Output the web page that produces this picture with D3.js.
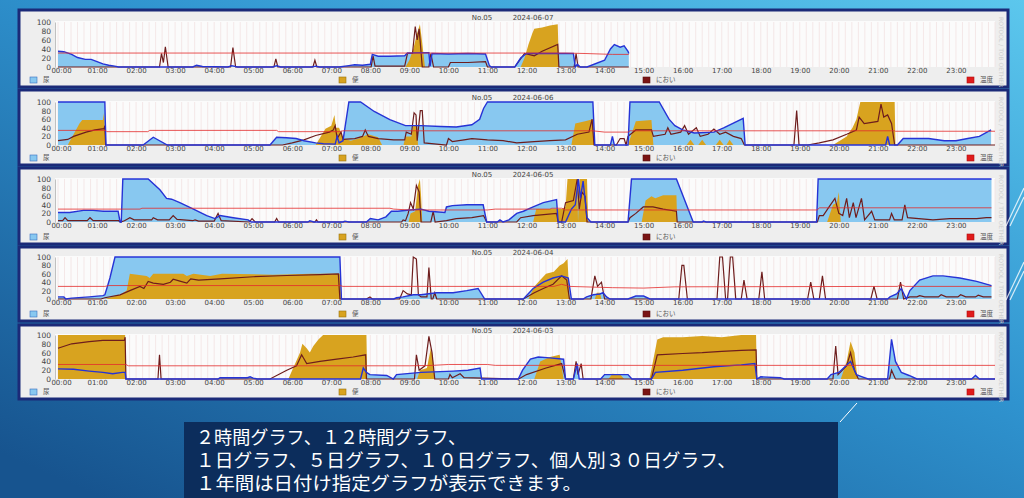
<!DOCTYPE html>
<html><head><meta charset="utf-8">
<script src="https://cdn.jsdelivr.net/npm/d3@7"></script>
<style>body{margin:0;overflow:hidden;background:#1d6aa6}svg{display:block}</style>
</head><body>
<svg id="c" width="1024" height="498"></svg>
<script>
// ---------- labels ----------
const hourLabels = ["00:00","01:00","02:00","03:00","04:00","05:00","06:00","07:00","08:00","09:00","10:00","11:00",
  "12:00","13:00","14:00","15:00","16:00","17:00","18:00","19:00","20:00","21:00","22:00","23:00"];
const hourTicks = [0,1,2,3,4,5,6,7,8,9,10,11,12,13,14,15,16,17,18,19,20,21,22,23];
const yTicks = [0,20,40,60,80,100];
const deviceNo = "No.05";
const days = ["2024-06-07","2024-06-06","2024-06-05","2024-06-04","2024-06-03"];
const legendLabels = ["尿","便","におい","温度"];
const watermark = "ROTOOL / TOB OETHER";
const captionLines = ["２時間グラフ、１２時間グラフ、","１日グラフ、５日グラフ、１０日グラフ、個人別３０日グラフ、","１年間は日付け指定グラフが表示できます。"];

// ---------- data: [hour, value] ----------
const urine0607 = [[0,35],[0.15,34],[0.35,28],[0.5,21],[0.7,17],[0.85,17],[1.0,12],[1.15,7],[1.3,4],[1.45,2],[1.55,0],
 [3.45,0],[3.55,4],[3.7,1],[4.35,0],[4.45,3],[4.6,0],[5.5,0],[5.6,3],[5.7,0],[6.5,0],[6.6,2],[6.7,0],
 [7.2,0],[7.45,3],[7.6,5],[7.8,4],[8.0,6],[8.05,28],[8.2,24],[8.5,24],[8.88,25],[8.95,31],[9.5,32],[9.53,2],[9.58,30],
 [10.0,29],[10.5,30],[10.95,29],[11.05,3],[11.1,0],[11.7,0],[11.85,20],[12.0,30],[13.2,30],[13.25,0],[13.3,6],[13.38,0],
 [13.55,0],[14.0,15],[14.15,40],[14.25,50],[14.4,44],[14.5,47],[14.6,35],[14.62,30]];
const stool0607 = [[8.9,0],[9.0,15],[9.1,40],[9.2,75],[9.27,95],[9.32,60],[9.4,0],[11.85,0],[11.95,20],[12.05,50],[12.15,75],
 [12.2,85],[12.4,88],[12.6,92],[12.8,95],[12.83,0]];
const odor0607 = [[0,0],[2.6,0],[2.65,30],[2.7,10],[2.75,45],[2.82,0],[4.42,0],[4.48,43],[4.55,0],[5.53,0],[5.58,18],[5.63,0],
 [6.53,0],[6.58,15],[6.63,0],[8.02,0],[8.07,25],[8.12,2],[8.88,2],[8.95,30],[9.08,30],[9.15,90],[9.2,60],[9.25,85],[9.33,0],
 [9.5,0],[9.55,30],[9.62,0],[10.0,0],[10.05,10],[10.5,10],[10.95,12],[11.0,0],[11.7,0],[11.95,30],[12.2,25],[12.4,35],
 [12.8,50],[12.83,0],[13.22,0],[13.27,30],[13.32,0],[14.62,0]];
const temp0607 = [[0,31],[13.0,31],[13.5,30],[14.2,28],[14.62,28]];

const urine0606 = [[0,100],[1.2,100],[1.21,60],[1.23,0],[2.18,0],[2.44,18],[2.8,0],[5.43,0],[5.6,18],[5.85,17],[6.1,15],
 [6.3,10],[6.6,5],[6.8,3],[7.1,2],[7.15,20],[7.2,5],[7.3,10],[7.45,100],[7.75,100],[8.1,78],[8.5,59],[8.9,45],[9.3,45],
 [9.8,43],[10.2,42],[10.6,47],[10.8,60],[10.9,85],[11.0,100],[13.7,100],[13.75,0],[14.15,0],[14.2,20],[14.25,0],[14.6,0],
 [14.65,100],[15.4,100],[15.65,60],[15.8,45],[16.0,35],[16.3,28],[16.8,30],[17.05,40],[17.55,62],[17.6,0],[21.2,0],
 [21.25,20],[21.3,0],[21.5,0],[21.65,15],[22.3,15],[22.7,10],[23.0,10],[23.3,15],[23.6,20],[23.9,35]];
const stool0606 = [[0.25,0],[0.4,25],[0.55,50],[0.62,58],[1.15,58],[1.18,75],[1.22,0],[6.6,0],[6.85,38],[7.0,45],[7.08,70],
 [7.12,40],[7.2,40],[7.3,15],[7.5,10],[7.7,15],[7.95,25],[8.2,18],[8.3,0],[8.85,0],[8.9,20],[9.05,20],[9.1,45],[9.2,45],
 [9.22,0],[13.15,0],[13.25,50],[13.5,55],[13.7,60],[13.75,0],[14.6,0],[14.8,55],[15.2,58],[15.25,0],[16.1,0],[16.2,12],
 [16.3,0],[16.4,0],[16.5,12],[16.6,0],[16.85,0],[16.95,12],[17.05,0],[17.12,0],[17.2,12],[17.3,0],[19.85,0],[20.2,20],
 [20.35,40],[20.45,60],[20.55,100],[21.43,100],[21.45,0]];
const odor0606 = [[0,10],[0.25,13],[0.4,20],[0.72,30],[0.95,35],[1.18,38],[1.2,45],[1.22,0],[5.75,0],[6.0,5],[6.3,12],
 [6.6,22],[6.95,30],[7.05,35],[7.1,45],[7.15,15],[7.25,30],[7.3,13],[7.6,15],[7.8,20],[7.87,35],[7.95,20],[8.2,15],
 [8.6,12],[8.88,12],[8.92,30],[9.05,25],[9.12,75],[9.17,70],[9.2,10],[9.28,80],[9.33,80],[9.38,5],[9.95,0],[10.0,15],
 [10.1,8],[10.4,12],[10.6,15],[11.0,12],[11.4,10],[11.75,5],[12.2,8],[12.6,10],[13.0,12],[13.3,25],[13.6,30],[13.68,60],
 [13.73,0],[14.3,0],[14.4,15],[14.5,15],[14.55,0],[14.6,20],[14.8,35],[15.2,35],[15.25,20],[15.55,25],[15.62,40],
 [15.7,25],[15.95,30],[16.05,45],[16.15,25],[16.35,40],[16.45,20],[16.65,25],[16.8,37],[16.95,25],[17.1,30],[17.3,20],
 [17.5,15],[17.58,0],[18.85,0],[18.92,80],[18.98,0],[19.2,0],[19.5,5],[19.85,12],[20.2,25],[20.45,35],[20.52,65],
 [20.65,50],[21.0,55],[21.08,95],[21.15,65],[21.25,70],[21.35,50],[21.43,0],[24,0]];
const temp0606 = [[0,34],[1.22,34],[1.25,31],[2.3,31],[2.35,34],[5.6,34],[5.65,31],[7.2,31],[7.3,33],[13.7,33],[14.0,30],
 [14.6,30],[14.65,33],[21.43,33],[21.45,32],[24,32]];

const urine0605 = [[0,22],[0.3,22],[0.65,27],[0.9,27],[1.16,25],[1.54,25],[1.59,0],[1.62,0],[1.66,100],[2.31,100],
 [2.61,75],[2.78,55],[2.91,53],[3.12,45],[3.47,30],[3.81,15],[4.02,8],[4.15,15],[4.49,10],[4.87,5],[4.95,0],[6.4,0],
 [6.45,3],[6.55,0],[7.3,0],[7.35,2],[7.45,0],[7.9,0],[8.0,8],[8.2,5],[8.4,12],[8.54,25],[8.7,25],[9.0,28],[9.3,30],
 [9.5,25],[9.91,22],[9.95,35],[10.1,38],[10.47,40],[10.89,40],[10.98,0],[11.25,0],[11.32,5],[11.4,0],[11.55,5],
 [11.75,20],[11.92,25],[12.17,35],[12.43,45],[12.77,52],[12.81,0],[13.0,0],[13.15,30],[13.25,40],[13.33,100],[13.38,55],
 [13.45,95],[13.55,10],[13.65,0],[14.6,0],[14.69,100],[15.84,100],[16.27,0],[16.5,0],[16.53,2],[16.6,0],[19.43,0],
 [19.47,100],[23.91,100]];
const stool0605 = [[8.98,0],[9.03,20],[9.15,25],[9.22,85],[9.27,100],[9.3,60],[9.33,0],[12.17,0],[12.25,30],[12.9,30],
 [13.0,35],[13.05,100],[13.3,100],[13.32,0],[13.36,100],[13.55,100],[13.58,0],[14.95,0],[15.05,50],[15.2,60],[15.3,55],
 [15.5,62],[15.84,62],[15.86,0],[19.7,0],[19.85,40],[19.95,45],[20.0,70],[20.05,0]];
const odor0605 = [[0,3],[0.12,3],[0.18,10],[0.25,3],[0.75,3],[0.82,10],[0.9,3],[1.55,3],[1.6,0],[1.7,3],[1.76,6],[1.84,10],
 [1.95,5],[2.4,5],[2.44,10],[2.55,5],[2.85,5],[2.95,15],[3.05,6],[3.45,3],[3.51,5],[3.6,2],[4.0,2],[4.1,20],[4.18,3],
 [4.9,0],[4.97,8],[5.05,0],[5.55,0],[5.6,8],[5.65,0],[6.58,0],[6.62,5],[6.66,0],[8.8,0],[8.84,5],[8.9,3],[8.97,20],
 [9.03,45],[9.1,30],[9.18,85],[9.25,70],[9.3,0],[9.55,0],[9.61,25],[9.66,0],[9.95,3],[10.2,8],[10.6,10],[10.9,15],
 [10.98,0],[11.75,0],[11.85,10],[12.17,15],[12.77,20],[12.81,0],[12.9,0],[13.0,45],[13.2,50],[13.3,100],[13.35,30],
 [13.42,70],[13.5,60],[13.55,0],[14.6,0],[14.65,10],[14.8,20],[14.99,35],[15.24,35],[15.5,30],[15.84,25],[15.86,0],
 [19.45,0],[19.5,15],[19.6,15],[19.75,35],[19.9,55],[20.0,20],[20.1,15],[20.2,55],[20.27,10],[20.37,45],[20.44,10],
 [20.58,55],[20.66,5],[20.84,25],[20.92,5],[21.3,5],[21.35,20],[21.42,5],[21.62,5],[21.69,40],[21.76,10],[22.41,5],
 [22.84,8],[23.27,8],[23.53,8],[23.78,10],[23.91,10]];
const temp0605 = [[0,30],[2.1,30],[2.15,32],[8.5,32],[8.6,30],[9.0,28],[11.0,28],[11.2,30],[12.6,30],[12.65,32],[12.9,32],
 [13.0,28],[19.45,28],[19.5,33],[23.91,33]];

const urine0604 = [[0,5],[0.15,5],[0.2,0],[0.35,2],[0.8,5],[1.15,8],[1.2,10],[1.25,25],[1.33,50],[1.46,100],[7.22,100],
 [7.26,0],[8.6,0],[8.67,3],[8.84,5],[9.1,10],[9.3,10],[9.45,12],[9.7,15],[10.12,15],[10.47,20],[10.76,25],[10.93,0],
 [11.92,0],[12.17,25],[12.43,40],[12.68,50],[12.9,55],[13.07,50],[13.15,0],[13.45,0],[13.54,5],[13.71,10],[13.88,12],
 [13.96,15],[14.05,5],[14.14,0],[14.6,0],[14.8,7],[15.0,7],[15.16,0],[21.25,0],[21.31,5],[21.48,12],[21.6,25],[21.73,0],
 [21.82,20],[22.07,45],[22.41,55],[22.67,55],[23.1,50],[23.53,42],[23.91,32]];
const stool0604 = [[1.2,0],[1.59,10],[1.76,20],[1.84,60],[2.27,55],[2.35,50],[2.44,60],[3.21,60],[3.3,55],[3.47,60],
 [3.9,55],[4.2,60],[5.5,58],[6.5,60],[7.22,60],[7.26,0],[12.05,0],[12.2,30],[12.35,45],[12.5,60],[12.7,65],[12.85,80],
 [12.95,85],[13.05,95],[13.1,0],[13.75,0],[13.8,15],[13.88,15],[13.92,0]];
const odor0604 = [[0,0],[1.1,0],[1.2,3],[1.59,10],[1.84,20],[2.1,30],[2.2,25],[2.31,42],[2.44,38],[2.7,35],[2.88,40],
 [2.95,47],[3.1,43],[3.3,38],[3.4,48],[3.6,45],[4.15,48],[5.0,53],[5.86,56],[6.71,58],[7.18,60],[7.22,0],[7.9,0],[7.99,5],
 [8.05,0],[8.75,0],[8.84,20],[8.95,12],[9.05,10],[9.1,100],[9.18,95],[9.23,10],[9.3,5],[9.45,5],[9.5,75],[9.56,0],[9.6,0],
 [9.65,15],[9.7,0],[11.92,0],[12.2,15],[12.43,25],[12.68,35],[12.9,55],[13.03,45],[13.1,0],[13.65,0],[13.75,55],
 [13.82,30],[13.92,40],[14.0,0],[15.9,0],[15.98,80],[16.03,80],[16.12,0],[16.88,0],[16.95,100],[17.02,100],[17.1,0],
 [17.15,0],[17.22,100],[17.28,100],[17.36,0],[17.5,0],[17.57,45],[17.65,0],[17.95,0],[18.03,65],[18.1,0],[19.2,0],
 [19.28,40],[19.36,0],[19.5,0],[19.58,55],[19.66,0],[20.82,0],[20.9,30],[20.98,0],[21.5,0],[21.58,40],[21.66,0],
 [21.82,5],[22.0,5],[22.07,8],[22.2,5],[22.55,5],[22.62,10],[22.75,5],[23.05,5],[23.12,10],[23.25,5],[23.5,5],[23.57,9],
 [23.7,5],[23.91,5]];
const temp0604 = [[0,30],[1.2,30],[1.3,32],[7.22,32],[7.3,30],[12.7,30],[12.9,35],[13.1,30],[14.2,27],[15.0,26],
 [15.8,29],[21.5,30],[21.6,34],[21.7,30],[23.91,30]];

const urine0603 = [[0,23],[0.4,22],[0.8,18],[1.15,15],[1.4,12],[1.65,15],[1.72,15],[1.74,0],[4.1,0],[4.15,3],[4.85,3],
 [4.92,5],[5.0,2],[5.1,0],[7.75,0],[7.82,25],[7.9,15],[7.99,10],[8.42,8],[8.59,0],[8.67,10],[9.3,15],[10.12,18],
 [10.5,20],[10.81,25],[10.85,0],[11.79,0],[11.9,20],[12.1,45],[12.3,50],[12.6,48],[12.95,45],[13.0,0],[13.2,0],
 [13.3,35],[13.35,0],[13.9,0],[14.0,10],[14.6,10],[14.7,0],[15.2,0],[15.3,15],[16.0,20],[16.8,28],[17.5,32],[17.85,35],
 [17.9,0],[18.0,5],[18.5,3],[18.6,0],[19.7,0],[19.8,10],[20.0,15],[20.3,40],[20.45,10],[20.6,5],[20.75,0],[21.25,0],
 [21.35,90],[21.45,40],[21.6,15],[21.8,8],[22.0,0],[23.4,0],[23.5,8],[23.6,0],[24,0]];
const stool0603 = [[0,100],[1.72,100],[1.74,0],[5.9,0],[6.05,30],[6.2,60],[6.26,80],[6.37,70],[6.45,60],[6.54,75],
 [6.67,90],[6.79,100],[7.9,100],[7.92,0],[9.2,0],[9.27,20],[9.45,25],[9.55,70],[9.6,50],[9.65,0],[12.2,0],[12.35,40],
 [12.6,50],[12.85,55],[12.95,0],[14.1,0],[14.2,12],[14.4,10],[14.5,0],[15.15,0],[15.35,90],[15.5,95],[16.0,95],
 [16.5,98],[17.0,95],[17.5,100],[17.88,100],[17.9,0],[20.05,0],[20.2,40],[20.3,85],[20.4,60],[20.48,0]];
const odor0603 = [[0,70],[0.35,80],[0.8,85],[1.15,88],[1.7,88],[1.72,95],[1.74,0],[2.56,0],[2.6,55],[2.64,0],[5.43,0],
 [5.86,20],[6.11,30],[6.24,55],[6.37,35],[6.71,40],[7.14,45],[7.56,50],[7.88,55],[7.9,0],[9.13,0],[9.18,55],[9.25,20],
 [9.4,30],[9.5,97],[9.58,60],[9.65,0],[10.0,0],[10.04,10],[10.1,3],[10.3,12],[10.4,3],[11.8,0],[12.0,10],[12.5,25],
 [12.9,35],[13.0,0],[13.2,0],[13.27,40],[13.32,10],[13.4,35],[13.45,0],[15.2,0],[15.35,55],[16.0,58],[16.5,60],
 [17.0,63],[17.5,65],[17.88,66],[17.9,0],[19.85,0],[19.92,75],[19.98,10],[20.2,30],[20.3,60],[20.4,20],[20.5,0],
 [21.3,0],[21.35,20],[21.45,0],[24,0]];
const temp0603 = [[0,33],[1.74,33],[1.8,30],[9.0,30],[9.6,31],[10.0,33],[11.0,33],[11.2,31],[24,31]];

const panelData = [
  {urine:urine0607, stool:stool0607, odor:odor0607, temp:temp0607},
  {urine:urine0606, stool:stool0606, odor:odor0606, temp:temp0606},
  {urine:urine0605, stool:stool0605, odor:odor0605, temp:temp0605},
  {urine:urine0604, stool:stool0604, odor:odor0604, temp:temp0604},
  {urine:urine0603, stool:stool0603, odor:odor0603, temp:temp0603}
];

// ---------- layout ----------
const panelTop = [9, 89, 167, 246, 324];
const panelBottom = [88, 166, 245, 322, 400];
const plotTop = [22, 102, 179, 257, 335];
const plotBottom = [67, 145, 222, 299, 379];
const C = {urineFill:"#88c8f0", urineLine:"#2633d6", stool:"#d8a31f", odor:"#6e1d1d", temp:"#e42c2c",
           border:"#1b2a78", panel:"#eeeeee", plot:"#fbfbfb", grid:"#f2e2e2", text:"#444"};

const svg = d3.select("#c");
const defs = svg.append("defs");
const bg = defs.append("linearGradient").attr("id","bg").attr("x1","1").attr("y1","0").attr("x2","0.1").attr("y2","1");
bg.append("stop").attr("offset","0").attr("stop-color","#5cc7ed");
bg.append("stop").attr("offset","0.45").attr("stop-color","#2f93cf");
bg.append("stop").attr("offset","1").attr("stop-color","#17548f");
svg.append("rect").attr("width",1024).attr("height",498).attr("fill","url(#bg)");

const x = d3.scaleLinear().domain([0,24]).range([58,995]);

panelData.forEach((pd,i)=>{
  const g = svg.append("g");
  const y = d3.scaleLinear().domain([0,100]).range([plotBottom[i], plotTop[i]]);
  g.append("rect").attr("x",19).attr("y",panelTop[i]+1).attr("width",989).attr("height",panelBottom[i]-panelTop[i]-2)
    .attr("fill",C.panel).attr("stroke",C.border).attr("stroke-width",3);
  g.append("rect").attr("x",x(0)-3).attr("y",y(100)-1).attr("width",x(24)-x(0)+3).attr("height",y(0)-y(100)+1)
    .attr("fill",C.plot);
  // grid
  g.append("g").selectAll("line").data(d3.range(0,24.01,1/6)).join("line")
    .attr("x1",d=>x(d)).attr("x2",d=>x(d)).attr("y1",y(100)).attr("y2",y(0))
    .attr("stroke",C.grid).attr("stroke-width",0.8);
  const cid = "clip"+i;
  defs.append("clipPath").attr("id",cid).append("rect")
    .attr("x",x(0)-2).attr("y",y(100)-2).attr("width",x(24)-x(0)+4).attr("height",y(0)-y(100)+3);
  const pg = g.append("g").attr("clip-path",`url(#${cid})`);
  const area = d3.area().x(d=>x(d[0])).y0(y(0)).y1(d=>y(d[1]));
  const line = d3.line().x(d=>x(d[0])).y(d=>y(d[1]));
  pg.append("path").attr("d",area(pd.urine)).attr("fill",C.urineFill);
  pg.append("path").attr("d",area(pd.stool)).attr("fill",C.stool);
  pg.append("path").attr("d",line(pd.odor)).attr("fill","none").attr("stroke",C.odor).attr("stroke-width",1.2);
  pg.append("path").attr("d",line(pd.urine)).attr("fill","none").attr("stroke",C.urineLine).attr("stroke-width",1.4);
  pg.append("path").attr("d",line(pd.temp)).attr("fill","none").attr("stroke",C.temp).attr("stroke-width",1)
    .attr("stroke-opacity",0.8);
  // axes
  const ya = g.append("g").attr("transform",`translate(${x(0)-3},0)`)
    .call(d3.axisLeft(y).tickValues(yTicks).tickSize(0).tickPadding(4));
  ya.select(".domain").attr("stroke","#999").attr("stroke-width",0.6);
  ya.selectAll("text").attr("font-family","DejaVu Sans").attr("font-size",7.5).attr("fill",C.text);
  const xa = g.append("g").attr("transform",`translate(0,${y(0)})`)
    .call(d3.axisBottom(x).tickValues(hourTicks).tickFormat((d,k)=>hourLabels[k]).tickSize(0).tickPadding(1.5));
  xa.select(".domain").remove();
  xa.selectAll("text").attr("font-family","DejaVu Sans").attr("font-size",7).attr("fill",C.text)
    .attr("dx",(d,k)=>k===0?3:0);
  // title
  g.append("text").attr("x",482).attr("y",y(100)-4).attr("text-anchor","middle").attr("dominant-baseline","middle")
    .attr("font-family","DejaVu Sans").attr("font-size",7).attr("fill",C.text).text(deviceNo);
  g.append("text").attr("x",533).attr("y",y(100)-4).attr("text-anchor","middle").attr("dominant-baseline","middle")
    .attr("font-family","DejaVu Sans").attr("font-size",7).attr("fill",C.text).text(days[i]);
  // legend
  const ly = panelBottom[i]-8;
  const legX = [30, 339, 643, 967];
  const legFill = [C.urineFill, C.stool, "#7a1414", "#e01b1b"];
  const legStroke = ["#3a6fc0", "#9a7410", "#5a0e0e", "#b01010"];
  legendLabels.forEach((lab,k)=>{
    g.append("rect").attr("x",legX[k]).attr("y",ly-3).attr("width",7).attr("height",6)
      .attr("fill",legFill[k]).attr("stroke",legStroke[k]).attr("stroke-width",0.6);
    g.append("text").attr("x",legX[k]+13).attr("y",ly).attr("dominant-baseline","middle")
      .attr("font-family","Noto Sans CJK JP").attr("font-size",6.5).attr("fill","#555").text(lab);
  });
  // watermark
  g.append("text").attr("transform",`translate(999,${panelTop[i]+8}) rotate(90)`)
    .attr("font-family","DejaVu Sans").attr("font-size",6).attr("fill","#cfcfcf").text(watermark);
});

// decorations
const deco = [[1006,300,1024,262],[1010,300,1024,271],[1006,226,1024,188],[1010,226,1024,197]];
svg.append("g").selectAll("line").data(deco).join("line")
  .attr("x1",d=>d[0]).attr("y1",d=>d[1]).attr("x2",d=>d[2]).attr("y2",d=>d[3])
  .attr("stroke","#ffffff").attr("stroke-opacity",0.8).attr("stroke-width",1.2);
svg.append("line").attr("x1",840).attr("y1",422).attr("x2",857).attr("y2",403)
  .attr("stroke","#ffffff").attr("stroke-width",1);

// caption box
svg.append("rect").attr("x",184).attr("y",422).attr("width",654).attr("height",76).attr("fill","#0c2d5c");
const capLen = [270, 540, 386];
const capY = [444, 467, 490];
captionLines.forEach((t,k)=>{
  svg.append("text").attr("x",196).attr("y",capY[k])
    .attr("font-family","'DejaVu Sans', 'Noto Sans CJK JP'").attr("font-size",18.5).attr("fill","#ffffff")
    .attr("textLength",capLen[k]).attr("lengthAdjust","spacingAndGlyphs").text(t);
});
</script>
</body></html>
